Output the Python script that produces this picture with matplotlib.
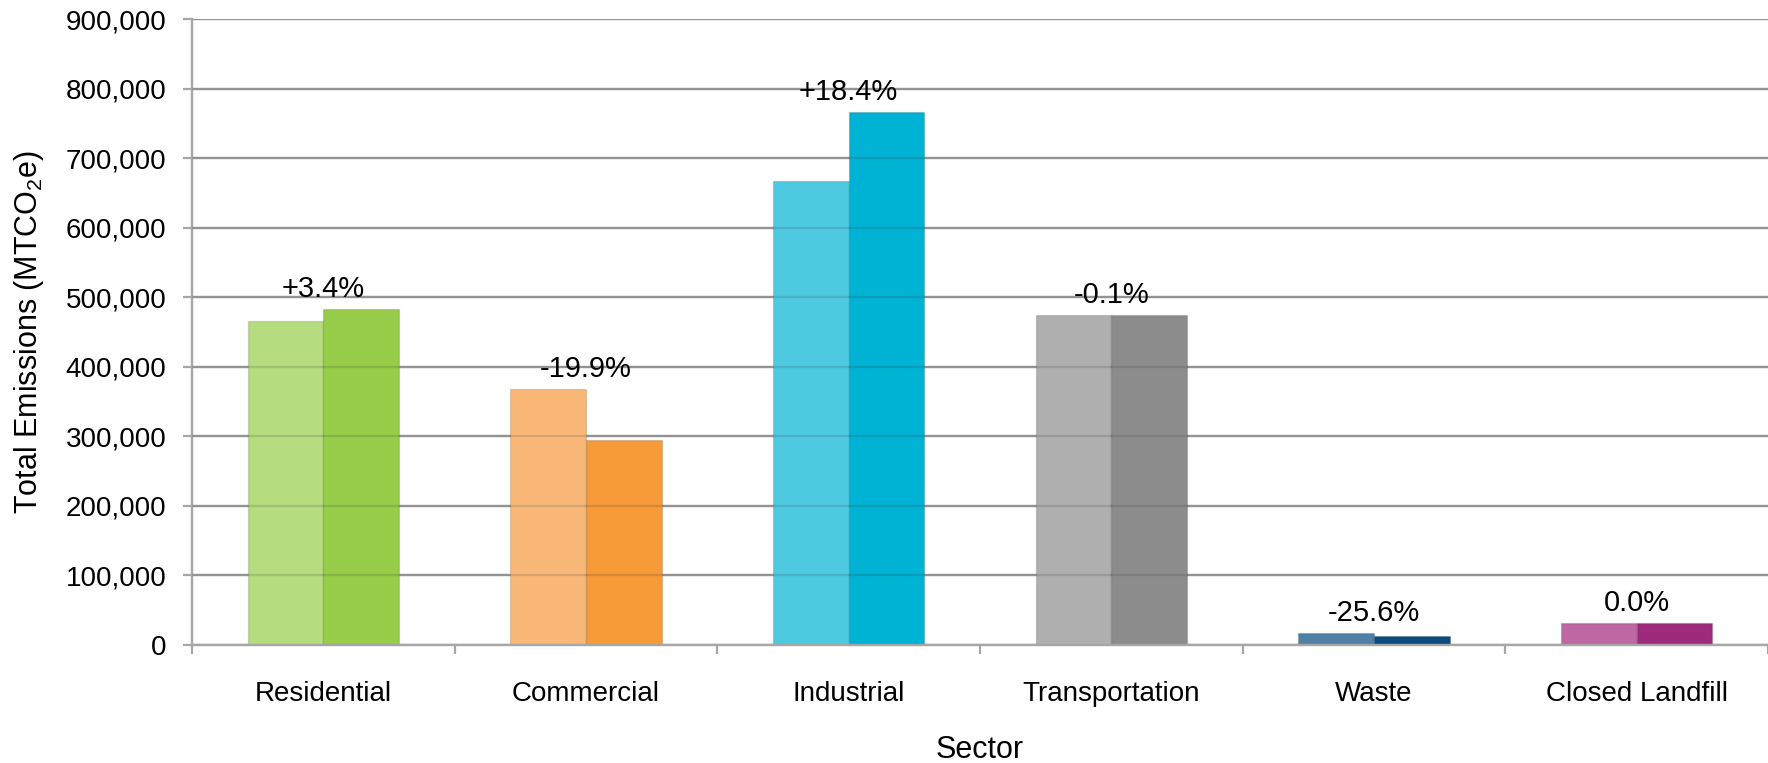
import matplotlib
matplotlib.use("Agg")
import matplotlib.pyplot as plt
from matplotlib.ticker import FuncFormatter, FixedLocator

plt.rcParams['font.family'] = ['Liberation Sans', 'DejaVu Sans']
plt.rcParams['mathtext.default'] = 'regular'

sectors = ['Residential', 'Commercial', 'Industrial', 'Transportation', 'Waste', 'Closed Landfill']
base_year = [466500, 368500, 666500, 474800, 17800, 31000]
later_year = [482500, 295200, 766400, 474500, 13000, 31000]
changes = ['+3.4%', '-19.9%', '+18.4%', '-0.1%', '-25.6%', '0.0%']

light_cols = ['#B5DC7F', '#F9B877', '#4DC9E0', '#AFAFAF', '#4F80A6', '#BD67A3']
dark_cols = ['#97CD48', '#F79A38', '#00B2D3', '#8C8C8C', '#0A4A7E', '#9E2A7B']

grid_col = '#A6A6A6'

fig = plt.figure(figsize=(17.68, 7.63), dpi=100)
ax = fig.add_axes([192 / 1768, 118 / 763, 1 - 192 / 1768, (645 - 19) / 763])

w = 0.2875
centers = [i + 0.5 for i in range(len(sectors))]
edge = (0, 0, 0, 0.12)
ax.bar([c - w / 2 for c in centers], base_year, width=w, color=light_cols,
       edgecolor=edge, linewidth=1, zorder=2)
ax.bar([c + w / 2 for c in centers], later_year, width=w, color=dark_cols,
       edgecolor=edge, linewidth=1, zorder=2)

for c, a, b, lab in zip(centers, base_year, later_year, changes):
    ax.annotate(lab, (c, max(a, b)), xytext=(0, 8.6), textcoords='offset points',
                ha='center', va='baseline', fontsize=21, color='black', zorder=4)

yticks = list(range(0, 900001, 100000))
ax.set_ylim(0, 900000)
ax.set_xlim(0, 6)
ax.yaxis.set_major_locator(FixedLocator(yticks))
ax.yaxis.set_major_formatter(FuncFormatter(lambda v, p: f'{v:,.0f}'))
ax.grid(axis='y', color=grid_col, linewidth=1.7, zorder=1)
ax.set_axisbelow(True)
# faint lines showing through the bars
ax.hlines(yticks[1:], 0, 6, color='#404040', alpha=0.18, linewidth=1.6, zorder=3)

ax.set_xticks(centers)
ax.set_xticklabels(sectors)
ax.set_xticks(range(0, 7), minor=True)
ax.tick_params(axis='x', which='major', length=0, pad=26, labelsize=20)
ax.tick_params(axis='x', which='minor', length=6.5, width=1.6, color=grid_col, direction='out')
ax.tick_params(axis='y', length=6.5, width=1.6, color=grid_col, pad=12, labelsize=20)

for s in ['top', 'right']:
    ax.spines[s].set_visible(False)
for s in ['left', 'bottom']:
    ax.spines[s].set_color(grid_col)
    ax.spines[s].set_linewidth(1.7)

ax.set_xlabel('Sector', fontsize=22, labelpad=20)
ax.set_ylabel('Total Emissions (MTCO$_2$e)', fontsize=22, labelpad=14)

fig.savefig('out.png', dpi=100)
